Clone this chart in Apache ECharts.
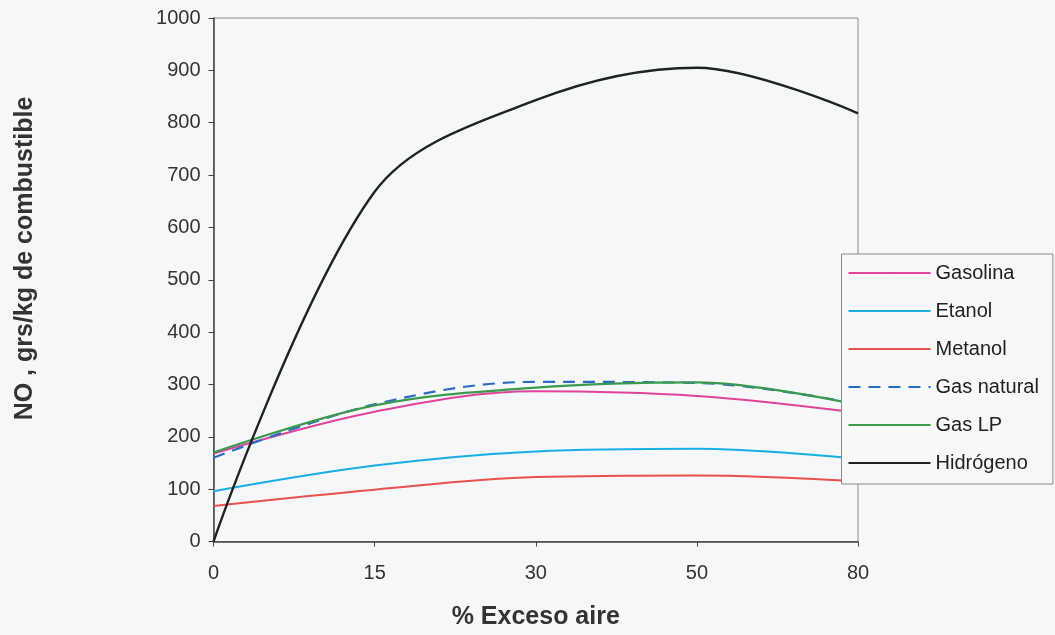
<!DOCTYPE html>
<html>
<head>
<meta charset="utf-8">
<script src="https://cdn.jsdelivr.net/npm/echarts@6/dist/echarts.min.js"></script>
<style>
  html, body { margin: 0; padding: 0; background: #f6f7f9; }
  #chart { width: 1055px; height: 635px; }
</style>
</head>
<body>
<div id="chart"></div>
<script>
// % excess air (category positions on the x axis)
const categories = ['0', '15', '30', '50', '80'];

// NO emission, grams per kg of fuel
const gasolina   = [168, 248, 287, 278, 246];
const etanol     = [96, 145, 172, 177, 158];
const metanol    = [68, 99, 123, 126, 115];
const gasNatural = [160, 262, 305, 303, 263];
const gasLP      = [170, 260, 294, 304, 261];
const hidrogeno  = [0, 668, 843, 905, 818];

const seriesNames  = ['Gasolina', 'Etanol', 'Metanol', 'Gas natural', 'Gas LP', 'Hidrógeno'];
const seriesData   = [gasolina, etanol, metanol, gasNatural, gasLP, hidrogeno];
const seriesColors = ['#e0439c', '#1aaee4', '#e8524c', '#2a6cc2', '#3b9a4b', '#1e251e'];
const seriesWidths = [2, 2, 2, 2.2, 2.2, 2.4];
const seriesDash   = ['solid', 'solid', 'solid', [12, 8], 'solid', 'solid'];
const seriesSmooth = [0.35, 0.35, 0.35, 0.35, 0.35, 0.34];

const yTicks = { min: 0, max: 1000, step: 100 };

const font = '"Liberation Sans", Arial, sans-serif';

const chart = echarts.init(document.getElementById('chart'), null, { renderer: 'canvas' });

chart.setOption({
  backgroundColor: '#f6f7f9',
  animation: false,
  grid: {
    left: 213.5, right: 197, top: 18, bottom: 93.5,
    show: true, borderColor: '#8a8a8a', borderWidth: 1, backgroundColor: 'transparent'
  },
  legend: {
    orient: 'vertical',
    left: 841.5, top: 254,
    padding: [9, 14, 11, 6],
    // a thin icon keeps the legend marker a plain line sample
    itemWidth: 82, itemHeight: 2, itemGap: 18,
    backgroundColor: '#f8f8f8',
    borderColor: '#8a8a8a', borderWidth: 1,
    textStyle: { fontFamily: font, fontSize: 20, lineHeight: 20, color: '#222' },
    data: seriesNames
  },
  xAxis: {
    type: 'category',
    data: categories,
    boundaryGap: false,
    name: '% Exceso aire',
    nameLocation: 'middle',
    nameGap: 63,
    nameTextStyle: { fontFamily: font, fontSize: 25, fontWeight: 'bold', color: '#333' },
    axisLine: { lineStyle: { color: '#444', width: 1.5 } },
    axisTick: { show: true, inside: false, length: 5, lineStyle: { color: '#444' } },
    axisLabel: { fontFamily: font, fontSize: 20, color: '#333', margin: 22 },
    splitLine: { show: false }
  },
  yAxis: {
    type: 'value',
    min: yTicks.min, max: yTicks.max, interval: yTicks.step,
    axisLine: { show: true, lineStyle: { color: '#444', width: 1.5 } },
    axisTick: { show: true, inside: false, length: 5, lineStyle: { color: '#444' } },
    axisLabel: {
      fontFamily: font, fontSize: 20, color: '#333', margin: 13,
      formatter: v => String(v)
    },
    splitLine: { show: false }
  },
  graphic: [{
    type: 'text',
    x: 25, y: 258.5,
    rotation: Math.PI / 2,
    style: {
      text: 'NO , grs/kg de combustible',
      font: 'bold 25px ' + font,
      fill: '#333',
      align: 'center',
      verticalAlign: 'middle'
    }
  }],
  series: seriesNames.map((name, i) => ({
    name,
    type: 'line',
    data: seriesData[i],
    smooth: seriesSmooth[i],
    symbol: 'none',
    color: seriesColors[i],
    lineStyle: { color: seriesColors[i], width: seriesWidths[i], type: seriesDash[i] }
  }))
});
</script>
</body>
</html>
